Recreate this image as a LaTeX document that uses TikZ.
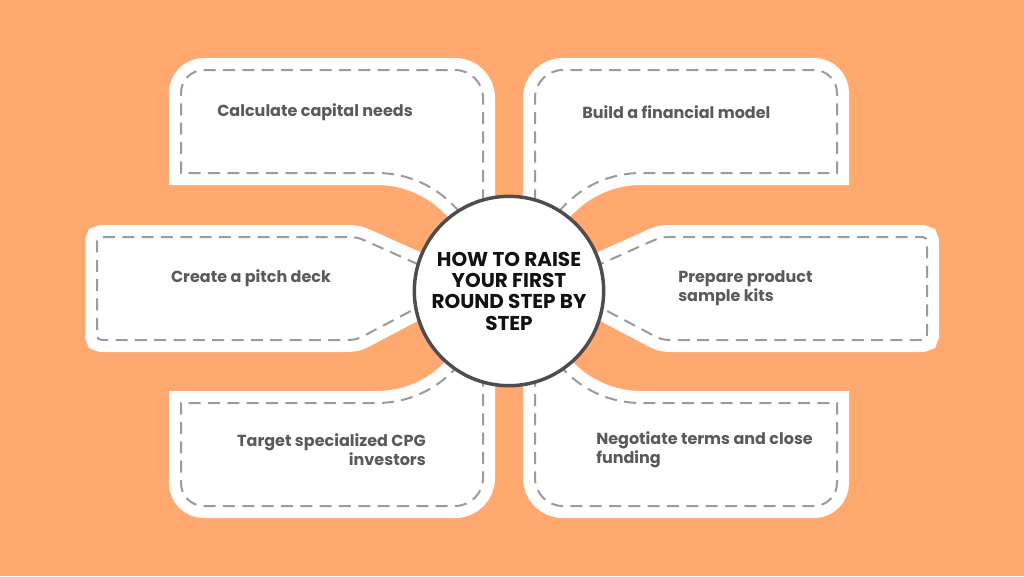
\documentclass[tikz,border=0pt]{standalone}
\usepackage{fontspec}
\setmainfont{Poppins}
\definecolor{bg}{HTML}{FFA870}
\definecolor{dashgray}{HTML}{9B9B9B}
\definecolor{ring}{HTML}{4D4D4D}
\definecolor{txt}{HTML}{5A5A5A}
\tikzset{
  blob/.style={fill=white, draw=white, line width=18pt, line join=miter},
  seam/.style={draw=dashgray, line width=1.5pt, dash pattern=on 9pt off 5.5pt},
  boxtext/.style={text=txt, font=\bfseries\fontsize{12}{14.3}\selectfont, inner sep=0pt},
}
\def\pTL{(483,240) -- (483,98) .. controls (483,82.5) and (470.5,70) .. (455,70) -- (204,70) .. controls (191.3,70) and (181,80.3) .. (181,93) -- (181,173) -- (377,173) .. controls (405,173) and (432,184) .. (452,204) -- (475,227) -- cycle}
\def\pTR{(535,240) -- (535,98) .. controls (535,82.5) and (547.5,70) .. (563,70) -- (814,70) .. controls (826.7,70) and (837,80.3) .. (837,93) -- (837,173) -- (641,173) .. controls (613,173) and (586,184) .. (566,204) -- (543,227) -- cycle}
\def\pBL{(483,336) -- (483,478) .. controls (483,493.5) and (470.5,506) .. (455,506) -- (204,506) .. controls (191.3,506) and (181,495.7) .. (181,483) -- (181,403) -- (377,403) .. controls (405,403) and (432,392) .. (452,372) -- (475,349) -- cycle}
\def\pBR{(535,336) -- (535,478) .. controls (535,493.5) and (547.5,506) .. (563,506) -- (814,506) .. controls (826.7,506) and (837,495.7) .. (837,483) -- (837,403) -- (641,403) .. controls (613,403) and (586,392) .. (566,372) -- (543,349) -- cycle}
\def\pML{(462,284) -- (369.2,333) .. controls (356,340) .. (341,340) -- (107,340) .. controls (97,340) .. (97,330) -- (97,247) .. controls (97,237) .. (107,237) -- (342,237) .. controls (357,237) .. (370.7,243.1) -- cycle}
\def\pMR{(556,284) -- (648.8,333) .. controls (662,340) .. (677,340) -- (917,340) .. controls (927,340) .. (927,330) -- (927,247) .. controls (927,237) .. (917,237) -- (676,237) .. controls (661,237) .. (647.3,243.1) -- cycle}
\begin{document}
\begin{tikzpicture}[x=0.75pt, y=-0.75pt]
\fill[bg] (0,0) rectangle (1024,576);
\useasboundingbox (0,0) rectangle (1024,576);
\path[blob] \pTL;
\path[blob] \pTR;
\path[blob] \pBL;
\path[blob] \pBR;
\path[blob] \pML;
\path[blob] \pMR;
\path[seam] \pTL;
\path[seam] \pTR;
\path[seam] \pBL;
\path[seam] \pBR;
\path[seam] \pML;
\path[seam] \pMR;
\node[circle, minimum size=142pt, inner sep=0pt, fill=white, draw=ring, line width=2.6pt,
      align=center, text=black!93, font=\bfseries\fontsize{15}{16}\selectfont] (hub) at (509,291)
      {HOW TO RAISE\\YOUR FIRST\\ROUND STEP BY\\STEP};
\node[boxtext, anchor=west] (t1) at (217,112) {Calculate capital needs};
\node[boxtext, anchor=west] (t2) at (582,112) {Build a financial model};
\node[boxtext] (t3) at (251,278) {Create a pitch deck};
\node[boxtext, anchor=west, align=left] (t4) at (678,288) {Prepare product\\sample kits};
\node[boxtext, anchor=east, align=right] (t5) at (426,450) {Target specialized CPG\\investors};
\node[boxtext, anchor=west, align=left] (t6) at (596,450) {Negotiate terms and close\\funding};
\end{tikzpicture}
\end{document}
